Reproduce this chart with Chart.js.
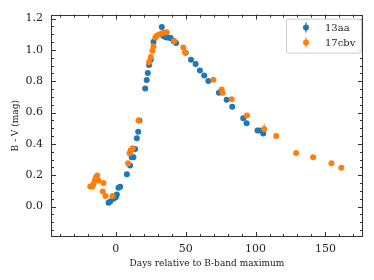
<!DOCTYPE html>
<html>
<head>
<meta charset="utf-8">
<script src="https://cdn.jsdelivr.net/npm/chart.js@4.4.0/dist/chart.umd.min.js"></script>
<style>
html,body{margin:0;padding:0;background:#fff;}
#wrap{width:374px;height:280px;position:relative;}
</style>
</head>
<body>
<div id="wrap"><canvas id="c" width="374" height="280"></canvas></div>
<script>
// ---- data ----
const days13aa = [-5.2, -4.0, -1.7, 0.0, 0.7, 1.9, 3.1, 7.9, 10.2, 11.4, 12.6, 13.8, 15.0, 16.0, 16.9,
  21.0, 22.1, 22.9, 23.8, 25.0, 27.0, 32.9, 34.0, 35.7, 37.6, 39.3, 41.2, 43.1,
  50.0, 53.8, 57.1, 60.2, 63.3, 66.2, 73.8, 79.3, 83.3, 91.2, 93.6, 101.4, 103.1, 105.5];
const bv13aa = [0.025, 0.033, 0.050, 0.060, 0.077, 0.120, 0.127, 0.207, 0.262, 0.315, 0.315, 0.367, 0.436, 0.478, 0.549,
  0.754, 0.808, 0.852, 0.904, 0.937, 1.052, 1.146, 1.088, 1.081, 1.077, 1.075, 1.056, 1.044,
  0.981, 0.937, 0.910, 0.868, 0.837, 0.802, 0.727, 0.681, 0.637, 0.564, 0.532, 0.486, 0.486, 0.466];

const days17cbv = [-18.3, -16.7, -16.0, -15.2, -14.3, -13.3, -12.4, -8.8, -9.3, -7.4, -2.4,
  8.8, 9.8, 10.7, 12.1, 16.2, 23.8, 25.0, 26.2, 26.9, 28.3, 29.3, 31.0, 32.9, 34.5, 36.4,
  41.7, 48.3, 49.5, 69.8, 75.7, 76.4, 82.9, 93.8, 106.2, 114.8, 129.0, 141.2, 154.3, 161.4];
const bv17cbv = [0.129, 0.129, 0.144, 0.165, 0.186, 0.198, 0.165, 0.150, 0.096, 0.067, 0.067,
  0.276, 0.340, 0.359, 0.372, 0.549, 0.921, 0.954, 0.994, 1.021, 1.079, 1.090, 1.098, 1.104, 1.111, 1.113,
  1.056, 1.015, 0.983, 0.810, 0.747, 0.727, 0.685, 0.582, 0.495, 0.451, 0.342, 0.315, 0.276, 0.248];
const err17cbv = [0.01, 0.01, 0.01, 0.01, 0.01, 0.01, 0.01, 0.01, 0.01, 0.01, 0.01,
  0.01, 0.01, 0.01, 0.01, 0.01, 0.01, 0.01, 0.01, 0.01, 0.01, 0.01, 0.01, 0.01, 0.01, 0.01,
  0.01, 0.01, 0.01, 0.01, 0.01, 0.01, 0.01, 0.01, 0.03, 0.01, 0.01, 0.01, 0.01, 0.01];

const seriesNames = ['13aa', '17cbv'];
const xTickValues = [0, 50, 100, 150];
const yTickValues = [0.0, 0.2, 0.4, 0.6, 0.8, 1.0, 1.2];
const xLabel = 'Days relative to B-band maximum';
const yLabel = 'B - V (mag)';

const BLUE = '#1f77b4', ORANGE = '#ff7f0e';
const AXC = '#333333';
const SERIF = '"DejaVu Serif", "Liberation Serif", serif';

function toPts(xs, ys){ return xs.map((x,i)=>({x:x, y:ys[i]})); }

const frame = {
  id:'frame',
  beforeDatasetsDraw(chart){
    const ctx = chart.ctx, xs = chart.scales.x, ys = chart.scales.y;
    ctx.save();
    ctx.strokeStyle = ORANGE; ctx.lineWidth = 1.2;
    days17cbv.forEach((d,i)=>{
      const px = xs.getPixelForValue(d);
      ctx.beginPath();
      ctx.moveTo(px, ys.getPixelForValue(bv17cbv[i]-err17cbv[i]));
      ctx.lineTo(px, ys.getPixelForValue(bv17cbv[i]+err17cbv[i]));
      ctx.stroke();
    });
    ctx.restore();
  },
  afterDraw(chart){
    const ctx = chart.ctx, a = chart.chartArea, xs = chart.scales.x, ys = chart.scales.y;
    ctx.save();
    ctx.strokeStyle = AXC; ctx.lineWidth = 1;
    ctx.strokeRect(Math.round(a.left)+0.5, Math.round(a.top)+0.5, Math.round(a.right-a.left)-1, Math.round(a.bottom-a.top)-1);
    const tick = (x1,y1,x2,y2)=>{ctx.beginPath();ctx.moveTo(x1,y1);ctx.lineTo(x2,y2);ctx.stroke();};
    for (let v = -40; v <= 170; v += 10) {
      const px = Math.round(xs.getPixelForValue(v)) + 0.5;
      const L = (v % 50 === 0) ? 5 : 3;
      tick(px, a.bottom, px, a.bottom - L);
      tick(px, a.top, px, a.top + L);
    }
    for (let k = -3; k <= 24; k++) {
      const v = k * 0.05;
      const py = Math.round(ys.getPixelForValue(v)) + 0.5;
      const L = (k % 4 === 0) ? 5 : 3;
      tick(a.left, py, a.left + L, py);
      tick(a.right, py, a.right - L, py);
    }
    // legend
    const bx = a.right - 77, by = a.top + 4, bw = 75, bh = 34;
    ctx.fillStyle = 'rgba(255,255,255,0.85)';
    ctx.strokeStyle = '#cccccc';
    ctx.lineWidth = 1;
    ctx.beginPath();
    if (ctx.roundRect) ctx.roundRect(bx+0.5, by+0.5, bw, bh, 2); else ctx.rect(bx+0.5, by+0.5, bw, bh);
    ctx.fill(); ctx.stroke();
    const cols = [BLUE, ORANGE];
    seriesNames.forEach((n,i)=>{
      const my = by + 9 + i*15, mx = bx + 20;
      ctx.strokeStyle = cols[i]; ctx.lineWidth = 1.2;
      tick(mx, my-5, mx, my+5);
      ctx.fillStyle = cols[i];
      ctx.beginPath(); ctx.arc(mx, my, 3, 0, Math.PI*2); ctx.fill();
      ctx.fillStyle = '#222';
      ctx.font = '10px ' + SERIF;
      ctx.textBaseline = 'middle'; ctx.textAlign = 'left';
      ctx.fillText(n, bx + 39, my + 0.5);
    });
    ctx.restore();
  }
};

new Chart(document.getElementById('c'), {
  type: 'scatter',
  data: {
    datasets: [
      {label: seriesNames[0], data: toPts(days13aa, bv13aa), backgroundColor: BLUE, pointRadius: 3, pointBorderWidth: 0, order: 1},
      {label: seriesNames[1], data: toPts(days17cbv, bv17cbv), backgroundColor: ORANGE, pointRadius: 3, pointBorderWidth: 0, order: 0}
    ]
  },
  options: {
    responsive: false,
    animation: false,
    devicePixelRatio: 1,
    layout: {padding: {top: 11, right: 11, left: 0, bottom: 0}},
    plugins: {legend: {display: false}, tooltip: {enabled: false}},
    scales: {
      x: {
        type: 'linear', min: -46.4, max: 176.9,
        afterBuildTicks: s => { s.ticks = xTickValues.map(v=>({value:v})); },
        afterFit: s => { s.height = 43; },
        grid: {display: true, drawOnChartArea: false, drawTicks: false},
        border: {display: false},
        ticks: {font: {family: SERIF, size: 11}, color: '#222', padding: 6, maxRotation: 0},
        title: {display: true, text: xLabel, font: {family: SERIF, size: 9}, color: '#222', padding: {top: 0, bottom: 11}}
      },
      y: {
        type: 'linear', min: -0.194, max: 1.225,
        afterBuildTicks: s => { s.ticks = yTickValues.map(v=>({value:v})); },
        afterFit: s => { s.width = 51; },
        grid: {display: true, drawOnChartArea: false, drawTicks: false},
        border: {display: false},
        ticks: {font: {family: SERIF, size: 11}, color: '#222', padding: 8, callback: v => Number(v).toFixed(1)},
        title: {display: true, text: yLabel, font: {family: SERIF, size: 9}, color: '#222', padding: {top: 10, bottom: 0}}
      }
    }
  },
  plugins: [frame]
});
</script>
</body>
</html>
